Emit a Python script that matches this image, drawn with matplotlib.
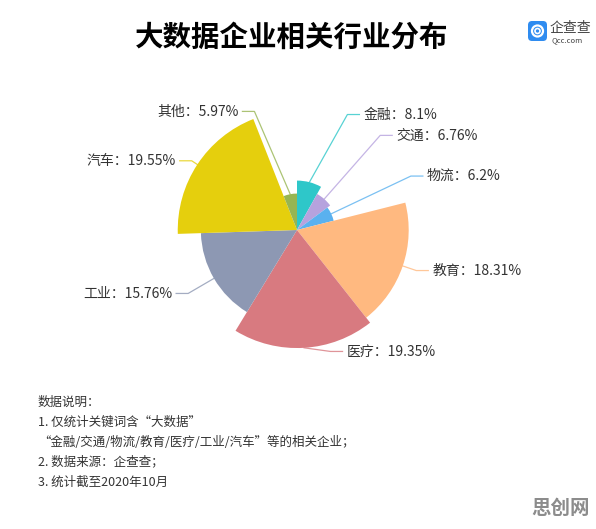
import numpy as np
import matplotlib.pyplot as plt
from matplotlib.patches import FancyBboxPatch, Circle

plt.rcParams['font.family'] = ['Noto Sans CJK SC', 'DejaVu Sans']

# data
names = ['金融', '交通', '物流', '教育', '医疗', '工业', '汽车', '其他']
shares = [8.1, 6.76, 6.2, 18.31, 19.35, 15.76, 19.55, 5.97]
colors = ['#2ec7c9', '#b6a2de', '#5ab1ef', '#ffb980', '#d87a80', '#8d98b3', '#e5cf0d', '#97b552']
title = '大数据企业相关行业分布'
notes = ['数据说明：',
         '1. 仅统计关键词含“大数据”',
         '“金融/交通/物流/教育/医疗/工业/汽车”等的相关企业；',
         '2. 数据来源：企查查；',
         '3. 统计截至2020年10月']

# layout (pixels)
W, H = 596, 529
cx, cy, half = 297, 230, 130
px_per_pct = 6.1
label_r = 126 / px_per_pct
nudge = {'金融': 9, '医疗': -12, '其他': -9}   # degrees, to keep labels apart

fig = plt.figure(figsize=(W / 100, H / 100), dpi=100)

ax = fig.add_axes([(cx - half) / W, (H - cy - half) / H, 2 * half / W, 2 * half / H],
                  projection='polar')
ax.set_theta_zero_location('N')
ax.set_theta_direction(-1)
ax.set_ylim(0, half / px_per_pct)
ax.axis('off')

widths = np.array(shares) / sum(shares) * 2 * np.pi
starts = np.concatenate([[0], np.cumsum(widths)[:-1]])
ax.bar(starts, shares, width=widths, align='edge', color=colors, linewidth=0)

# overlay in pixel coords, y pointing down
top = fig.add_axes([0, 0, 1, 1])
top.set_xlim(0, W)
top.set_ylim(H, 0)
top.axis('off')
top.patch.set_alpha(0)


def to_px(theta, r):
    x, y = ax.transData.transform((theta, r))
    return x, H - y


for name, v, c, s, w in zip(names, shares, colors, starts, widths):
    mid = s + w / 2
    x0, y0 = to_px(mid, v)
    x1, y1 = to_px(mid + np.deg2rad(nudge.get(name, 0)), label_r)
    side = 1 if x1 > cx else -1
    x2 = x1 + side * 12
    top.plot([x0, x1, x2], [y0, y1, y1], color=c, lw=0.9, alpha=0.8)
    top.text(x2 + side * 4, y1, f'{name}：{v:g}%', fontsize=10, color='#333333',
             ha='left' if side > 0 else 'right', va='center')

top.text(292, 38, title, fontsize=20.5, fontweight='bold', color='black',
         ha='center', va='center')

# logo
top.add_patch(FancyBboxPatch((528, 21), 19, 20, boxstyle='round,pad=0,rounding_size=4',
                             fc='#2f8cf0', ec='none'))
top.add_patch(Circle((537.5, 31), 5.5, fc='none', ec='white', lw=1.6))
top.add_patch(Circle((537.5, 31), 2.5, fc='none', ec='white', lw=1.2))
top.text(550, 28, '企查查', fontsize=10, color='#444444', ha='left', va='center')
top.text(551, 40, 'Qcc.com', fontsize=5.5, color='#444444', ha='left', va='center')

for i, line in enumerate(notes):
    top.text(38, 402 + i * 20, line, fontsize=9, color='#333333', ha='left', va='center')

top.text(590, 508, '思创网', fontsize=14, fontweight='bold', color='#8c8c8c',
         ha='right', va='center')

fig.savefig('out.png', dpi=100)
